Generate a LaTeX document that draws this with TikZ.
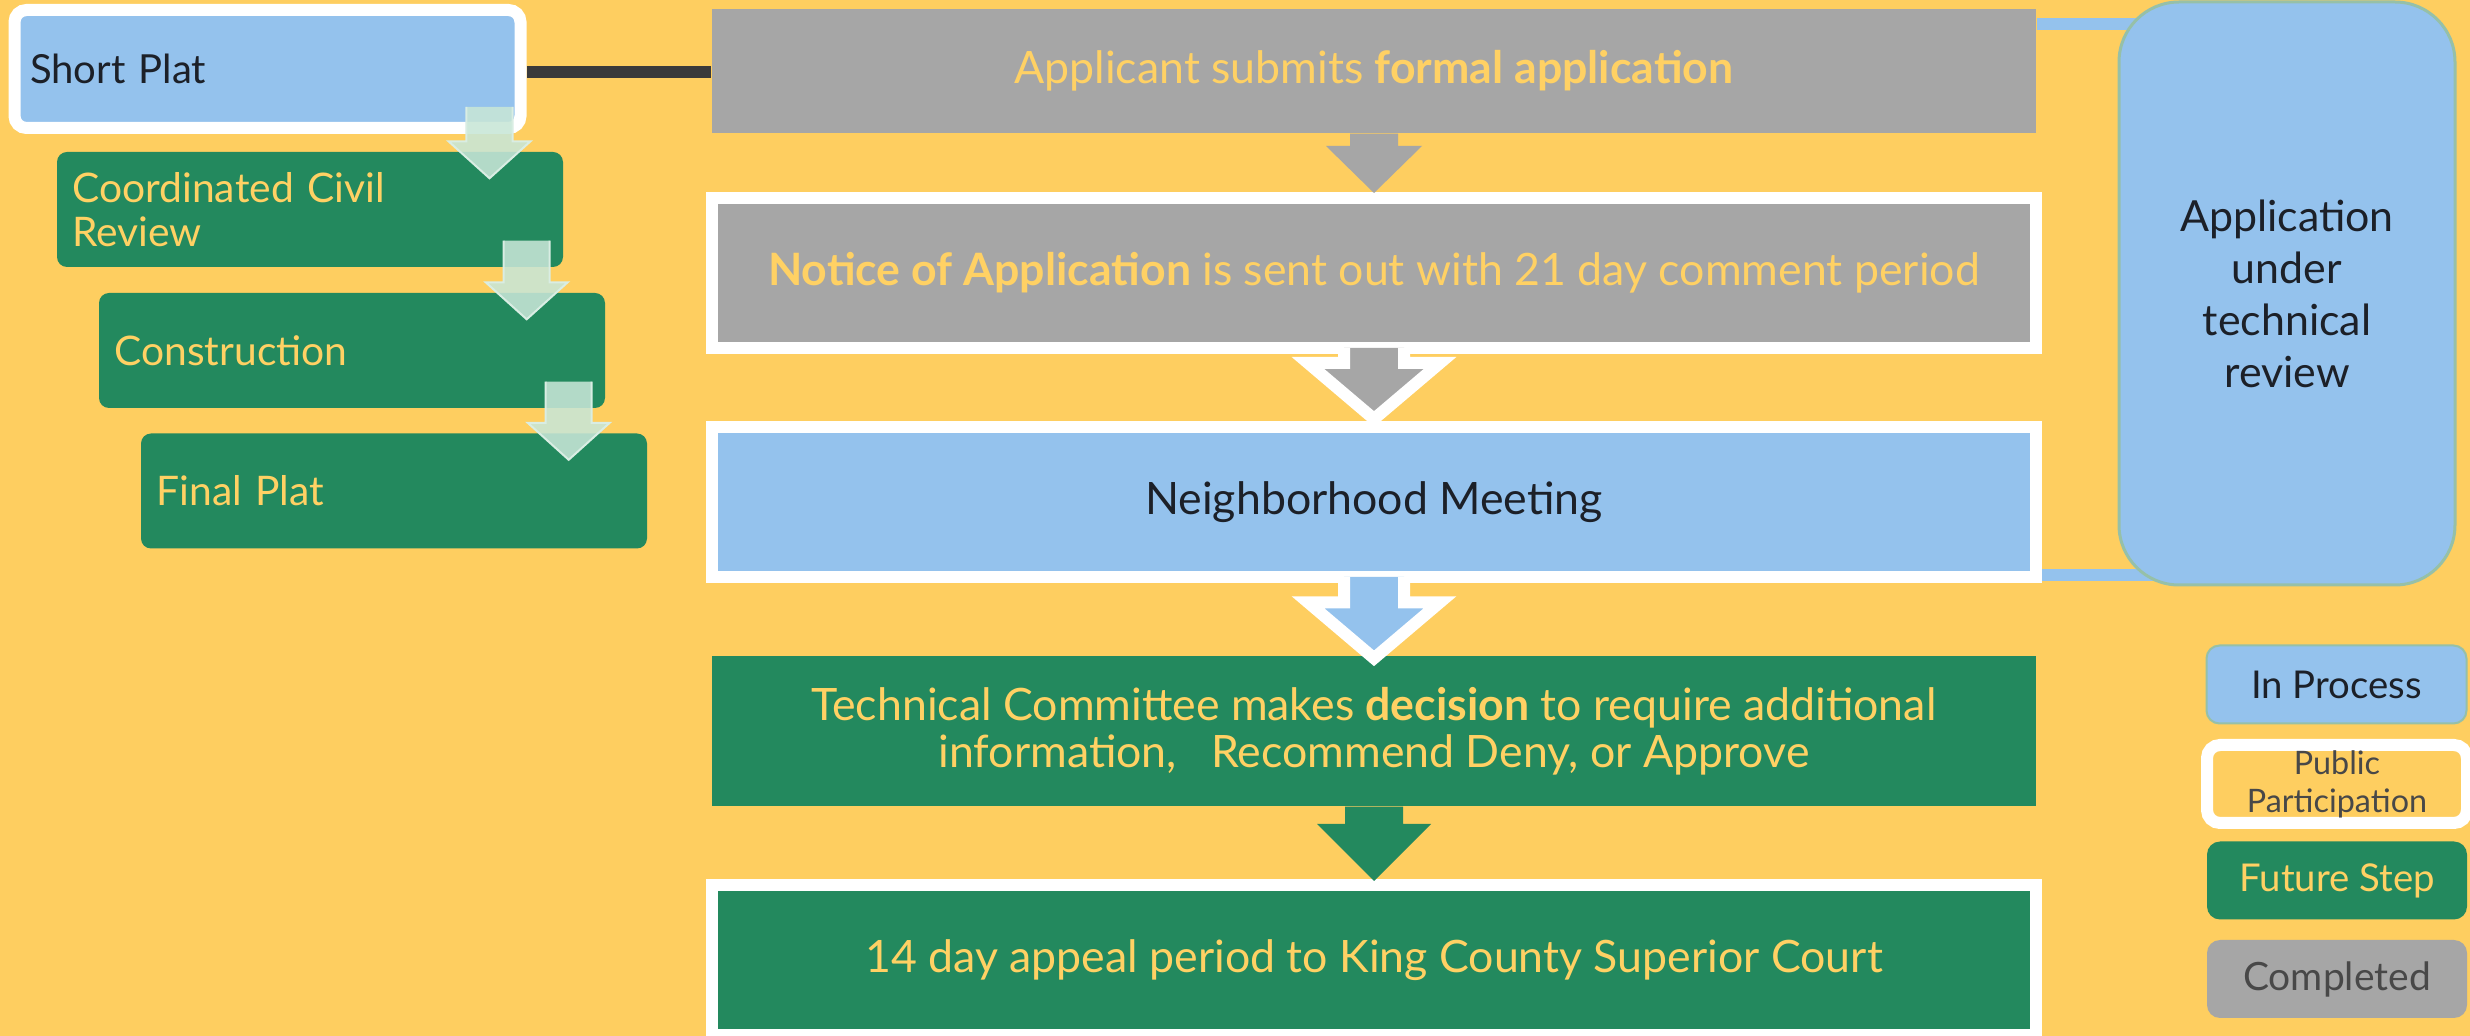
\documentclass[tikz,border=0pt]{standalone}
\usepackage{fontspec}
\setmainfont{Lato}
\usetikzlibrary{calc}

\definecolor{bgyellow}{RGB}{254,206,96}
\definecolor{txtyellow}{RGB}{255,209,100}
\definecolor{stepblue}{RGB}{148,194,237}
\definecolor{stepgray}{RGB}{166,166,166}
\definecolor{stepgreen}{RGB}{35,137,94}
\definecolor{rimgreen}{RGB}{150,192,168}
\definecolor{mint}{RGB}{200,230,215}
\definecolor{inkdark}{RGB}{28,32,40}
\definecolor{inkgray}{RGB}{72,72,72}
\definecolor{linkdark}{RGB}{58,58,58}

\pgfdeclarelayer{bg}
\pgfdeclarelayer{back}
\pgfsetlayers{bg,back,main}

\tikzset{
  stepbox/.style={rectangle, minimum width=132.4mm, minimum height=15mm, inner sep=0pt,
    align=center, font=\fontsize{12.7}{13.4}\selectfont},
  pubrim/.style={draw=white, line width=1.2mm},
  sidebox/.style={rectangle, rounded corners=1mm, minimum height=11.5mm, text width=47.5mm,
    inner xsep=1.55mm, inner ysep=0pt, align=left, font=\fontsize{11.6}{12.5}\selectfont},
  keybox/.style={rectangle, rounded corners=1.3mm, minimum width=26mm, minimum height=7.8mm,
    inner sep=0pt, align=center},
  link/.style={line width=1.2mm},
}

% block arrow: style, start, tip, shaft half width, head half width, head length
\newcommand\blockarrow[6]{%
  \coordinate (ba-s) at (#2);
  \coordinate (ba-t) at (#3);
  \coordinate (ba-h) at ($(ba-t)+(0,-#6)$);
  \path[#1] ($(ba-s)+(-#4,0)$) -- ($(ba-h)+(-#4,0)$) -- ($(ba-h)+(-#5,0)$)
    -- (ba-t) -- ($(ba-h)+(#5,0)$) -- ($(ba-h)+(#4,0)$) -- ($(ba-s)+(#4,0)$);
}

\begin{document}
\begin{tikzpicture}[x=0.1mm, y=-0.1mm]
    \useasboundingbox (0,0) rectangle (2470,1036);
    \begin{pgfonlayer}{bg}
        \fill[bgyellow] (0,0) rectangle (2470,1036);
    \end{pgfonlayer}

    % short plat steps
    \node[sidebox, fill=stepblue, pubrim, rounded corners=1.2mm, minimum height=11.8mm, text=inkdark,
        font=\fontsize{11.4}{12.5}\selectfont] (sp) at (267.5,69) {Short Plat};
    \node[sidebox, fill=stepgreen, text=txtyellow] (ccr) at (310,209.5) {Coordinated Civil\\Review};
    \node[sidebox, fill=stepgreen, text=txtyellow] (con) at (352,350.5) {Construction};
    \node[sidebox, fill=stepgreen, text=txtyellow] (fp) at (394,491) {Final Plat};

    % main process
    \node[stepbox, fill=stepgray, minimum height=12.4mm, text=txtyellow] (b1) at (1374,71)
        {Applicant submits \textbf{formal application}};
    \node[stepbox, fill=stepgray, pubrim, text=txtyellow] (b2) at (1374,273)
        {\textbf{Notice of Application} is sent out with 21 day comment period};
    \node[stepbox, fill=stepblue, pubrim, text=inkdark] (b3) at (1374,502) {Neighborhood Meeting};
    \node[stepbox, fill=stepgreen, text=txtyellow] (b4) at (1374,731)
        {Technical Committee makes \textbf{decision} to require additional\\
         information,\ \ \ Recommend Deny, or Approve};
    \node[stepbox, fill=stepgreen, pubrim, text=txtyellow] (b5) at (1374,960)
        {14 day appeal period to King County Superior Court};

    \node[rectangle, rounded corners=6mm, fill=stepblue, draw=rimgreen, line width=0.3mm,
        minimum width=33.6mm, minimum height=58.3mm, inner sep=0pt, align=center, text=inkdark,
        font=\fontsize{12.2}{14.8}\selectfont] (rev) at (2287,293.5)
        {Application\\under\\technical\\review};

    % key
    \node[keybox, fill=stepblue, draw=rimgreen, line width=0.2mm, text=inkdark,
        font=\fontsize{10.9}{12}\selectfont] (kin) at (2336.5,684.5) {In Process};
    \node[keybox, fill=bgyellow, pubrim, text=inkgray,
        font=\fontsize{9.2}{10.8}\selectfont] (kpub) at (2337,784) {Public\\Participation};
    \node[keybox, fill=stepgreen, text=txtyellow,
        font=\fontsize{10.9}{12}\selectfont] (kfut) at (2337,880.5) {Future Step};
    \node[keybox, fill=stepgray, text=inkgray,
        font=\fontsize{11.1}{12}\selectfont] (kcom) at (2337,979) {Completed};

    % links
    \begin{pgfonlayer}{back}
        \draw[link, linkdark] ($(sp.east)+(0,3)$) -- ($(b1.west)+(0,1)$);
        \coordinate (t1) at ($(b1.north east)+(0,16)$);
        \coordinate (t2) at ($(b3.south east)+(0,-8)$);
        \draw[link, stepblue] (t1) -- (t1 -| rev.center);
        \draw[link, stepblue] (t2) -- (t2 -| rev.center);
    \end{pgfonlayer}

    % arrows
    \blockarrow{fill=stepgray}{b1.south}{$(b2.north)+(0,1)$}{24}{48}{47}
    \blockarrow{fill=stepgray, draw=white, line width=1.2mm, line join=miter}
        {$(b2.south)+(0,-6)$}{$(b3.north)+(0,-2)$}{30}{66}{56}
    \blockarrow{fill=stepblue, draw=white, line width=1.2mm, line join=miter}
        {$(b3.south)+(0,-6)$}{$(b4.north)+(0,3)$}{30}{66}{56}
    \blockarrow{fill=stepgreen}{b4.south}{$(b5.north)+(0,2)$}{29}{57}{57}

    \foreach \a/\b in {sp/ccr, ccr/con, con/fp} {
        \coordinate (ms) at ($(\a.south east)+(-37,-27)$);
        \coordinate (mt) at ($(ms |- \b.north)+(0,27)$);
        \blockarrow{fill=mint, fill opacity=0.88, draw=mint!70!white, line width=0.2mm}{ms}{mt}{23}{41}{37}
    }
\end{tikzpicture}
\end{document}
